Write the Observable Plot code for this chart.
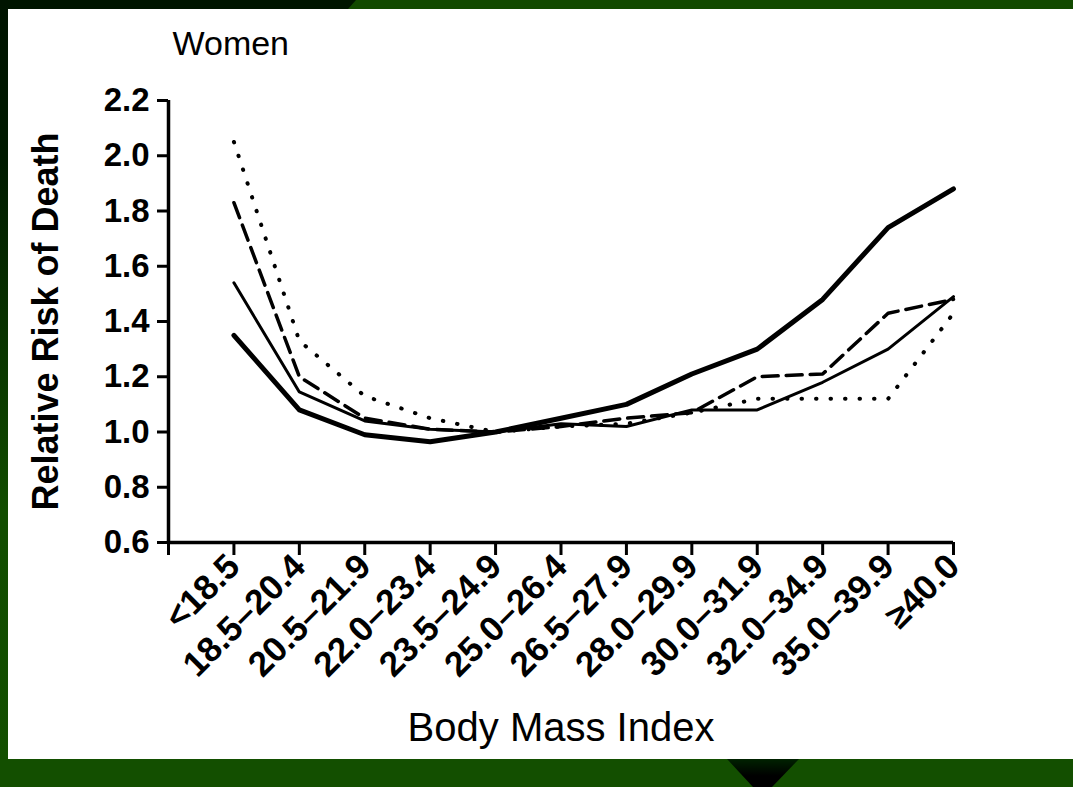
<!DOCTYPE html>
<html><head><meta charset="utf-8">
<script src="https://cdn.jsdelivr.net/npm/d3@7"></script>
<script src="https://cdn.jsdelivr.net/npm/@observablehq/plot@0.6"></script>
<style>
html,body{margin:0;padding:0;background:#fff;}
#wrap{position:relative;width:1073px;height:787px;overflow:hidden;background:#fff;}
#chart{position:absolute;left:0;top:0;}
#frame{position:absolute;left:0;top:0;pointer-events:none;}
</style></head><body>
<div id="wrap"><div id="chart"></div>
<svg id="frame" width="1073" height="787">
<defs>
<linearGradient id="lg" x1="0" y1="0" x2="0" y2="1"><stop offset="0" stop-color="#001400"/><stop offset="0.2" stop-color="#001a00"/><stop offset="0.65" stop-color="#124d00"/><stop offset="1" stop-color="#134f00"/></linearGradient>
<linearGradient id="tg" x1="0" y1="0" x2="0" y2="1"><stop offset="0" stop-color="#002200"/><stop offset="0.6" stop-color="#000"/><stop offset="1" stop-color="#000"/></linearGradient>
</defs>
<rect x="0" y="0" width="1073" height="9" fill="#124a00"/>
<polygon points="0,0 356,0 348,9 0,9" fill="#001500"/>
<rect x="0" y="0" width="8" height="787" fill="url(#lg)"/>
<rect x="0" y="759" width="1073" height="28" fill="#134f00"/>
<polygon points="727,759 799,759 772,787 753,787" fill="url(#tg)"/>
</svg></div>
<script>
const categories = ["<18.5","18.5–20.4","20.5–21.9","22.0–23.4","23.5–24.9","25.0–26.4","26.5–27.9","28.0–29.9","30.0–31.9","32.0–34.9","35.0–39.9","≥40.0"];
const yTicks = [0.6,0.8,1.0,1.2,1.4,1.6,1.8,2.0,2.2];
// four series (line styles: thick solid, thin solid, dashed, dotted)
const thickSolid = [1.35,1.08,0.99,0.965,1.0,1.05,1.10,1.21,1.30,1.48,1.74,1.88];
const thinSolid  = [1.54,1.145,1.04,1.01,1.0,1.03,1.02,1.08,1.08,1.18,1.30,1.49];
const dashed     = [1.83,1.20,1.05,1.01,1.0,1.02,1.05,1.07,1.20,1.21,1.43,1.48];
const dotted     = [2.05,1.33,1.13,1.05,1.0,1.02,1.03,1.07,1.12,1.12,1.12,1.43];

const rows = s => s.map((v, i) => ({i, v}));
const font = "'Liberation Sans', Arial, Helvetica, sans-serif";

const chart = Plot.plot({
  width: 1073, height: 787,
  marginLeft: 168, marginRight: 120, marginTop: 100, marginBottom: 245,
  style: {background: "transparent", fontFamily: font, color: "#000", overflow: "visible"},
  x: {type: "linear", domain: [-1, 11], axis: null},
  y: {domain: [0.6, 2.2], axis: null},
  marks: [
    Plot.axisY({ticks: yTicks, tickFormat: d => d.toFixed(1), tickSize: 11, tickPadding: 8, fontSize: 33, fontWeight: "bold", strokeWidth: 3, label: null}),
    Plot.axisX({ticks: d3.range(-1, 12), tickFormat: i => i < 0 ? "" : categories[i], tickSize: 13, tickPadding: 5, tickRotate: -45, fontSize: 35, fontWeight: "bold", strokeWidth: 3, label: null}),
    Plot.ruleX([-1], {y1: 0.6, y2: 2.2, strokeWidth: 3.5}),
    Plot.ruleY([0.6], {x1: -1, x2: 11, strokeWidth: 3.5}),
    Plot.line(rows(dotted), {x: "i", y: "v", strokeWidth: 4, strokeDasharray: "0.5,14", strokeLinecap: "round"}),
    Plot.line(rows(dashed), {x: "i", y: "v", strokeWidth: 3.5, strokeDasharray: "16,8"}),
    Plot.line(rows(thinSolid), {x: "i", y: "v", strokeWidth: 3}),
    Plot.line(rows(thickSolid), {x: "i", y: "v", strokeWidth: 5}),
    Plot.text(["Women"], {frameAnchor: "top-left", dx: 4, dy: -56, textAnchor: "start", lineAnchor: "middle", fontSize: 34}),
    Plot.text(["Relative Risk of Death"], {frameAnchor: "left", dx: -122, rotate: -90, textAnchor: "middle", lineAnchor: "middle", fontSize: 36, fontWeight: "bold"}),
    Plot.text(["Body Mass Index"], {frameAnchor: "bottom", dy: 186, lineAnchor: "middle", fontSize: 40})
  ]
});
document.getElementById("chart").appendChild(chart);
</script>
</body></html>
